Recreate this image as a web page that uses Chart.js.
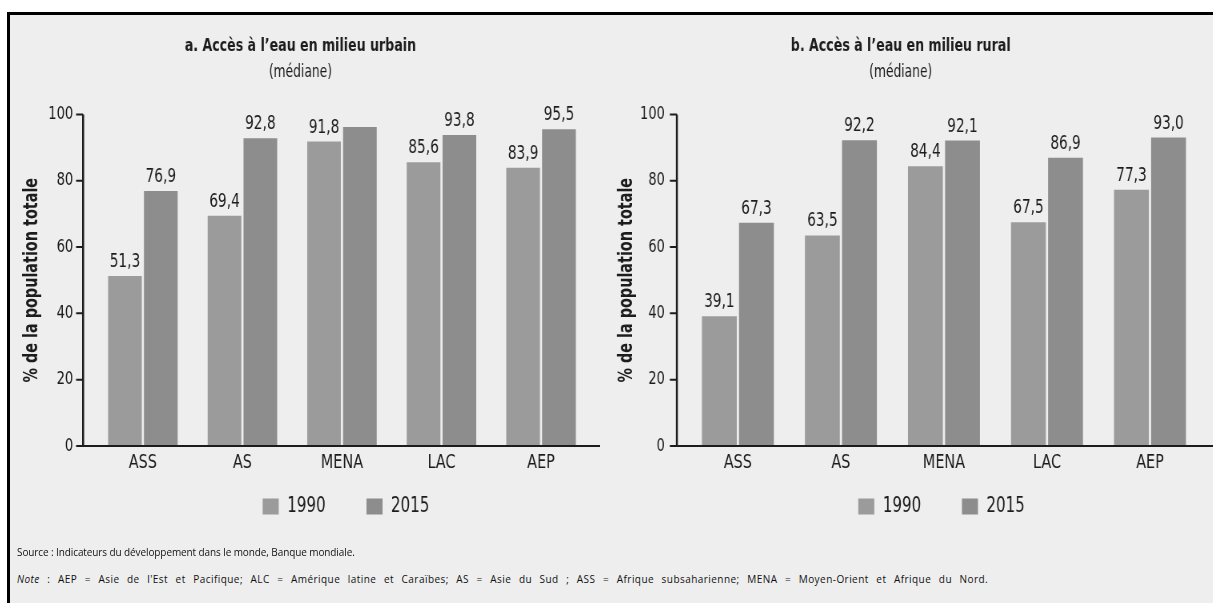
<!DOCTYPE html>
<html lang="fr">
<head>
<meta charset="utf-8">
<title>Accès à l'eau</title>
<script src="https://cdn.jsdelivr.net/npm/chart.js@4.4.1/dist/chart.umd.min.js"></script>
<style>
  html, body { margin: 0; padding: 0; background: #fff; }
  body { width: 1213px; height: 603px; position: relative; overflow: hidden; }
  .frame {
    position: absolute; left: 7px; top: 12px; width: 1220px; height: 600px;
    border-left: 3px solid #000; border-top: 3px solid #000;
    background: #eeeeee;
  }
  /* police étroite : le canevas est compressé horizontalement */
  .panel { position: absolute; top: 16px; height: 544px; transform: scaleX(0.8); transform-origin: 0 0; }
  #panelA { left: 10px; width: 737.5px; }
  #panelB { left: 600px; width: 766.25px; }
  .foot {
    position: absolute; left: 17px; font-family: "Open Sans", "Liberation Sans", sans-serif;
    font-size: 10px; color: #111; white-space: nowrap;
  }
  .foot i { font-style: italic; }
</style>
</head>
<body>
<div class="frame"></div>
<div class="panel" id="panelA"><canvas id="chartA"></canvas></div>
<div class="panel" id="panelB"><canvas id="chartB"></canvas></div>
<div class="foot" style="top:545px; letter-spacing:-0.1px">Source : Indicateurs du développement dans le monde, Banque mondiale.</div>
<div class="foot" style="top:572px; letter-spacing:0.45px; word-spacing:4.5px"><i>Note</i> : AEP = Asie de l'Est et Pacifique; ALC = Amérique latine et Caraïbes; AS = Asie du Sud ; ASS = Afrique subsaharienne; MENA = Moyen-Orient et Afrique du Nord.</div>

<script>
const regions = ['ASS', 'AS', 'MENA', 'LAC', 'AEP'];
const years = ['1990', '2015'];
const yTicks = [0, 20, 40, 60, 80, 100];
const yTitle = '% de la population totale';

const urbain1990 = [51.3, 69.4, 91.8, 85.6, 83.9];
const urbain2015 = [76.9, 92.8, 96.2, 93.8, 95.5];
const rural1990 = [39.1, 63.5, 84.4, 67.5, 77.3];
const rural2015 = [67.3, 92.2, 92.1, 86.9, 93.0];

// valeur sans étiquette dans l'original (MENA urbain 2015)
const urbainSansEtiquette2015 = ['MENA'];

const SQ = 0.8;
const FONT = '"DejaVu Sans Condensed", "DejaVu Sans", sans-serif';
const INK = '#1c1c1c';
const col1990 = '#9b9b9b';
const col2015 = '#8d8d8d';

// axes dessinés un peu à gauche de la zone de tracé, base prolongée jusqu'au bord
const axesPlugin = {
  id: 'axes',
  afterDatasetsDraw(chart, args, opts) {
    const { ctx, chartArea, scales } = chart;
    const y = scales.y;
    const ax = chartArea.left - opts.gap;
    const y0 = y.getPixelForValue(0);
    ctx.save();
    ctx.strokeStyle = INK;
    ctx.lineWidth = 2 / SQ;
    ctx.beginPath();
    ctx.moveTo(ax, y.getPixelForValue(100));
    ctx.lineTo(ax, y0 + 1);
    ctx.stroke();
    ctx.lineWidth = 2;
    ctx.beginPath();
    ctx.moveTo(ax, y0);
    ctx.lineTo(chart.width, y0);
    y.ticks.forEach(t => {
      const py = y.getPixelForValue(t.value);
      ctx.moveTo(ax - opts.tick, py);
      ctx.lineTo(ax, py);
    });
    ctx.stroke();

    // titre de l'axe vertical, police étroite tournée
    ctx.translate(opts.titleX, (chartArea.top + chartArea.bottom) / 2);
    ctx.scale(1 / SQ, 1);
    ctx.rotate(-Math.PI / 2);
    ctx.scale(SQ, 1);
    ctx.font = 'bold 20px ' + FONT;
    ctx.fillStyle = INK;
    ctx.textAlign = 'center';
    ctx.textBaseline = 'middle';
    ctx.fillText(yTitle, 0, 0);
    ctx.restore();
  }
};

const labelsPlugin = {
  id: 'valeurs',
  afterDatasetsDraw(chart, args, opts) {
    const { ctx } = chart;
    ctx.save();
    ctx.font = '19px ' + FONT;
    ctx.fillStyle = INK;
    ctx.textAlign = 'center';
    ctx.textBaseline = 'alphabetic';
    chart.data.datasets.forEach((ds, di) => {
      const meta = chart.getDatasetMeta(di);
      meta.data.forEach((bar, i) => {
        if ((opts.skip[di] || []).includes(chart.data.labels[i])) return;
        const txt = ds.data[i].toFixed(1).replace('.', ',');
        ctx.fillText(txt, bar.x, bar.y - 9);
      });
    });
    ctx.restore();
  }
};

const legendShift = {
  id: 'legendShift',
  afterLayout(chart, args, opts) {
    const lg = chart.legend;
    if (!lg) return;
    lg.left += opts.dx; lg.right += opts.dx;
    lg.top += opts.dy; lg.bottom += opts.dy;
  }
};

function makeChart(id, title, d1990, d2015, cfg) {
  const ctx = document.getElementById(id).getContext('2d');
  return new Chart(ctx, {
    type: 'bar',
    data: {
      labels: regions,
      datasets: [
        { label: years[0], data: d1990, backgroundColor: col1990, borderWidth: 0 },
        { label: years[1], data: d2015, backgroundColor: col2015, borderWidth: 0 }
      ]
    },
    options: {
      responsive: true,
      maintainAspectRatio: false,
      animation: false,
      events: [],
      categoryPercentage: 0.72,
      barPercentage: 0.94,
      layout: { padding: { top: 0, right: cfg.padRight, left: 0, bottom: 0 } },
      scales: {
        x: {
          grid: { display: false, drawTicks: false },
          border: { display: false },
          ticks: { color: INK, font: { family: FONT, size: 20 }, padding: 5 },
          afterFit: s => { s.height = 32; }
        },
        y: {
          min: 0, max: 100,
          afterBuildTicks: s => { s.ticks = yTicks.map(v => ({ value: v })); },
          grid: { display: false, drawTicks: false },
          border: { display: false },
          ticks: { color: INK, font: { family: FONT, size: 18 }, padding: cfg.tickPad },
          afterFit: s => { s.width = cfg.yWidth; }
        }
      },
      plugins: {
        title: {
          display: true, text: title, color: INK,
          font: { family: FONT, size: 17.5, weight: 'bold' },
          padding: { top: 20, bottom: 4 }
        },
        subtitle: {
          display: true, text: '(médiane)', color: INK,
          font: { family: FONT, size: 17 },
          padding: { top: 1, bottom: 32 }
        },
        legend: {
          position: 'bottom',
          labels: {
            color: INK, boxWidth: 20, boxHeight: 16, padding: 51,
            font: { family: FONT, size: 21 }
          }
        },
        tooltip: { enabled: false },
        axes: { gap: cfg.gap, tick: 8.75, titleX: cfg.titleX },
        valeurs: { skip: cfg.skip },
        legendShift: { dx: cfg.legendDx, dy: -33 }
      }
    },
    plugins: [axesPlugin, labelsPlugin, legendShift]
  });
}

makeChart('chartA', 'a. Accès à l’eau en milieu urbain', urbain1990, urbain2015, {
  padRight: 12.5, yWidth: 103.75, tickPad: 25, titleX: 27.5, gap: 12.5,
  skip: [[], urbainSansEtiquette2015], legendDx: 57
});
makeChart('chartB', 'b. Accès à l’eau en milieu rural', rural1990, rural2015, {
  padRight: 14.4, yWidth: 108, tickPad: 27, titleX: 33.75, gap: 11.9,
  skip: [[], []], legendDx: 51
});
</script>
</body>
</html>
